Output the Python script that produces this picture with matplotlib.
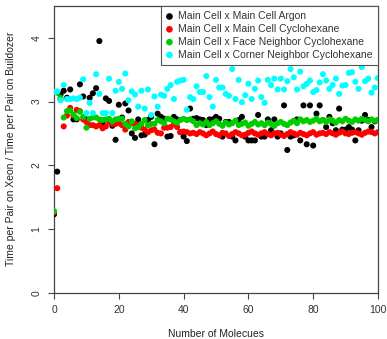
import matplotlib
matplotlib.use("Agg")
import matplotlib.pyplot as plt
import numpy as np

plt.rcParams['font.family'] = ['Liberation Sans', 'DejaVu Sans']

x_values = list(range(0, 101))

argon = [1.23, 1.90, 3.11, 3.17, 3.06, 3.19, 2.72, 2.72, 3.27, 3.08,
         2.72, 3.06, 3.13, 3.21, 3.95, 2.67, 3.05, 3.01, 2.62, 2.40,
         2.95, 2.75, 2.97, 2.86, 2.50, 2.43, 2.72, 2.47, 2.48, 2.71,
         2.76, 2.33, 2.81, 2.76, 2.73, 2.45, 2.46, 2.76, 2.72, 2.52,
         2.45, 2.38, 2.89, 2.73, 2.74, 2.72, 2.71, 2.63, 2.72, 2.72,
         2.76, 2.73, 2.45, 2.68, 2.68, 2.45, 2.39, 2.71, 2.76, 2.45,
         2.39, 2.39, 2.39, 2.79, 2.45, 2.45, 2.72, 2.55, 2.72, 2.45,
         2.50, 2.94, 2.24, 2.45, 2.47, 2.72, 2.39, 2.94, 2.33, 2.94,
         2.31, 2.81, 2.94, 2.71, 2.60, 2.76, 2.66, 2.55, 2.89, 2.56,
         2.56, 2.60, 2.56, 2.39, 2.55, 2.70, 2.79, 2.71, 2.60, 2.69,
         2.71]

main_cyclo = [1.26, 1.64, 3.03, 2.61, 2.78, 2.90, 2.78, 2.87, 2.85, 2.72,
              2.68, 2.63, 2.63, 2.61, 2.63, 2.58, 2.61, 2.68, 2.65, 2.65,
              2.66, 2.63, 2.56, 2.68, 2.66, 2.65, 2.63, 2.59, 2.56, 2.52,
              2.55, 2.56, 2.51, 2.50, 2.59, 2.59, 2.60, 2.65, 2.60, 2.52,
              2.53, 2.52, 2.50, 2.51, 2.49, 2.52, 2.50, 2.47, 2.50, 2.53,
              2.49, 2.47, 2.51, 2.50, 2.46, 2.49, 2.52, 2.50, 2.47, 2.48,
              2.51, 2.53, 2.50, 2.48, 2.50, 2.52, 2.49, 2.47, 2.50, 2.51,
              2.48, 2.46, 2.49, 2.52, 2.50, 2.48, 2.51, 2.49, 2.47, 2.50,
              2.52, 2.48, 2.50, 2.51, 2.49, 2.52, 2.50, 2.48, 2.51, 2.53,
              2.50, 2.49, 2.51, 2.52, 2.50, 2.48, 2.51, 2.53, 2.52, 2.50,
              2.52]

face_cyclo = [1.28, 3.14, 3.06, 2.75, 2.85, 2.86, 2.80, 2.74, 2.84, 2.76,
              2.59, 2.73, 2.75, 2.75, 2.72, 2.71, 2.72, 2.73, 2.69, 2.72,
              2.73, 2.73, 2.65, 2.61, 2.69, 2.58, 2.60, 2.65, 2.71, 2.63,
              2.65, 2.65, 2.71, 2.69, 2.66, 2.73, 2.72, 2.69, 2.67, 2.71,
              2.73, 2.71, 2.72, 2.69, 2.63, 2.66, 2.64, 2.68, 2.63, 2.66,
              2.69, 2.65, 2.62, 2.67, 2.64, 2.66, 2.70, 2.63, 2.65, 2.67,
              2.62, 2.65, 2.68, 2.64, 2.66, 2.63, 2.67, 2.65, 2.62, 2.66,
              2.68, 2.65, 2.63, 2.67, 2.70, 2.66, 2.72, 2.69, 2.71, 2.68,
              2.70, 2.73, 2.69, 2.71, 2.68, 2.72, 2.70, 2.67, 2.71, 2.69,
              2.73, 2.70, 2.68, 2.72, 2.70, 2.73, 2.71, 2.69, 2.72, 2.70,
              2.71]

corner_cyclo = [3.15, 3.16, 3.02, 3.26, 3.04, 3.04, 3.05, 3.04, 3.06, 3.35,
                2.82, 2.98, 2.82, 3.43, 3.12, 2.82, 2.82, 3.36, 2.82, 3.17,
                3.31, 3.20, 3.44, 3.02, 3.16, 3.11, 2.92, 3.17, 2.89, 3.19,
                2.79, 3.08, 2.92, 3.11, 3.09, 3.20, 3.26, 3.04, 3.31, 3.33,
                3.34, 2.87, 3.07, 3.04, 3.24, 3.15, 3.15, 3.40, 3.07, 2.92,
                3.34, 3.22, 3.22, 3.12, 3.09, 3.51, 3.04, 3.34, 2.99, 3.10,
                3.28, 3.04, 3.20, 3.33, 3.07, 2.98, 3.34, 3.26, 3.36, 3.19,
                3.36, 3.19, 3.32, 3.51, 3.38, 3.19, 3.47, 3.24, 3.28, 3.33,
                3.15, 3.18, 3.30, 3.43, 3.33, 3.20, 3.26, 3.36, 3.12, 3.25,
                3.26, 3.45, 3.46, 3.31, 3.20, 3.54, 3.32, 3.36, 3.14, 3.22,
                3.37]

labels = ["Main Cell x Main Cell Argon",
          "Main Cell x Main Cell Cyclohexane",
          "Main Cell x Face Neighbor Cyclohexane",
          "Main Cell x Corner Neighbor Cyclohexane"]
colors = ["#000000", "#FF0000", "#00CD00", "#00FFFF"]
x_ticks = [0, 20, 40, 60, 80, 100]
y_ticks = [0, 1, 2, 3, 4]

W, H = 387, 339
fig = plt.figure(figsize=(W / 100, H / 100), dpi=100)
ax = fig.add_axes([54 / W, 46.3 / H, (378 - 54) / W, (292.7 - 6) / H])

series = [argon, main_cyclo, face_cyclo, corner_cyclo]
for vals, col, lab in zip(series, colors, labels):
    ax.scatter(x_values, vals, s=19, color=col, edgecolors='none', label=lab, zorder=3)

ax.set_xlim(0, 100)
ax.set_ylim(0, 4.5)
ax.set_xticks(x_ticks)
ax.set_yticks(y_ticks)
ax.tick_params(axis='both', direction='out', length=4, width=0.8, color='#444444',
               labelsize=7.5, labelcolor='#333333')
ax.tick_params(axis='x', pad=5)
ax.tick_params(axis='y', pad=5)
for lab in ax.get_yticklabels():
    lab.set_rotation(90)
    lab.set_va('center')
for sp in ax.spines.values():
    sp.set_color('#444444')
    sp.set_linewidth(0.9)

leg = ax.legend(loc='upper right', bbox_to_anchor=(1, 1), borderaxespad=0,
                frameon=True, fancybox=False, framealpha=1, edgecolor='#555555',
                fontsize=7.5, handlelength=0.6, handletextpad=0.55, borderpad=0.5,
                labelspacing=0.27, scatterpoints=1, markerscale=1.1)
leg.get_frame().set_linewidth(0.8)
leg.set_zorder(10)
for t in leg.get_texts():
    t.set_color('#333333')

fig.text(216 / W, 1 - 334 / H, "Number of Molecues", ha='center', va='center',
         fontsize=7.5, color='#222222')
fig.text(11 / W, 1 - 149 / H, "Time per Pair on Xeon / Time per Pair on Buildozer",
         ha='center', va='center', rotation=90, fontsize=7.5, color='#222222')

fig.savefig("out.png", dpi=100)
